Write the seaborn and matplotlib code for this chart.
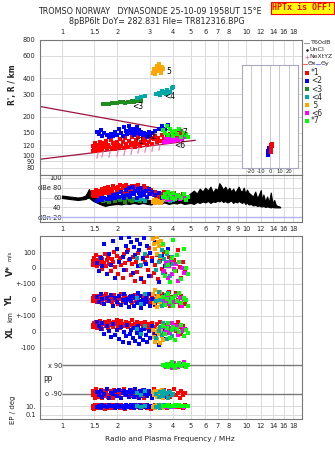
import matplotlib
matplotlib.use("Agg")
import matplotlib.pyplot as plt
import seaborn as sns
from matplotlib.ticker import FixedLocator, NullLocator, FixedFormatter

sns.set_theme(style="white")
plt.rcParams['font.family'] = ['DejaVu Sans']

# ---------------- data ----------------
FREQ_TICKS = [1, 1.5, 2, 3, 4, 5, 6, 7, 8, 10, 12, 14, 16, 18]
FREQ_LABELS = ['1', '1.5', '2', '3', '4', '5', '6', '7', '8', '10', '12', '14', '16', '18']
MID_TICKS = [1, 1.5, 2, 3, 4, 5, 6, 7, 8, 9, 10, 12, 14, 16, 18]
MID_LABELS = ['1', '1.5', '2', '3', '4', '5', '6', '7', '8', '9', '10', '12', '14', '16', '18']
H_TICKS = [80, 90, 100, 120, 150, 200, 300, 400, 600, 800]

# echo cluster *1 (red)
red_f = [1.47, 1.48, 1.50, 1.51, 1.53, 1.55, 1.56, 1.58, 1.60, 1.62,
         1.64, 1.66, 1.69, 1.71, 1.73, 1.76, 1.78, 1.81, 1.84, 1.86,
         1.89, 1.92, 1.95, 1.98, 2.01, 2.04, 2.07, 2.10, 2.14, 2.17,
         2.21, 2.24, 2.28, 2.32, 2.36, 2.40, 2.44, 2.48, 2.52, 2.56,
         2.60, 2.65, 2.69, 2.74, 2.78, 2.83, 2.88, 2.93, 2.98, 3.03,
         3.09, 3.15, 3.21, 3.27, 3.34, 3.41, 3.48, 3.56, 3.64, 3.72,
         3.80, 3.88, 3.97, 4.06, 4.15, 4.25, 4.35, 4.45, 4.55, 4.68]
red_h = [108, 119, 113, 124, 107, 116, 121, 110, 127, 114,
         119, 109, 124, 115, 129, 111, 121, 117, 132, 113,
         125, 118, 112, 128, 121, 115, 133, 119, 126, 113,
         136, 122, 117, 129, 120, 138, 125, 116, 131, 123,
         140, 119, 128, 135, 124, 131, 121, 142, 127, 136,
         123, 133, 141, 127, 137, 130, 145, 134, 128, 142,
         136, 147, 131, 140, 150, 137, 144, 148, 141, 146]
red_db = [66, 72, 64, 70, 75, 68, 63, 71, 74, 67,
          77, 65, 72, 80, 69, 75, 82, 70, 78, 73,
          84, 68, 79, 74, 81, 71, 85, 76, 83, 70,
          79, 85, 72, 81, 77, 84, 70, 83, 78, 74,
          86, 75, 80, 71, 84, 76, 79, 73, 68, 75,
          70, 66, 72, 64, 69, 62, 67, 71, 65, 60,
          68, 63, 66, 70, 62, 65, 60, 64, 67, 61]
red_v = [45, 20, 62, 35, 80, 10, 52, 28, 70, 40,
         -5, 58, 33, 88, 15, 47, 65, 25, -20, 54,
         38, 100, 5, 72, -35, 44, 60, 18, -60, 85,
         30, -10, 115, 50, -45, 22, 68, -80, 40, -25,
         95, 10, -65, 55, -90, 35, 75, -15, 125, -50,
         60, -30, 20, 80, -70, 45, -5, 100, -40, 15,
         70, -85, 30, 50, -20, 110, 5, -60, 40, -10]
red_yl = [10, -5, 22, 3, 15, -12, 28, 8, -2, 18,
          12, -20, 25, 5, 35, -8, 16, 0, 20, -15,
          9, 30, -3, 14, -25, 19, 6, 38, -10, 11,
          24, -6, 15, 2, 28, -18, 10, 33, -4, 17,
          7, -12, 22, 13, -28, 5, 26, -1, 40, -15,
          18, 8, -30, 25, 12, -8, 35, 3, -20, 15,
          50, -35, 20, -10, 45, 0, -40, 25, 10, -25]
red_xl = [45, 30, 58, 38, 65, 25, 50, 42, 70, 33,
          55, 20, 48, 62, 36, 52, 28, 68, 44, 57,
          31, 60, 47, 73, 39, 54, 26, 66, 43, 50,
          35, 61, 29, 56, 46, 72, 22, 53, 40, 64,
          18, 49, 58, 34, 45, 62, 27, 51, 10, 38,
          55, -5, 30, 48, 20, 60, -20, 42, 15, 35,
          55, -40, 25, 45, 5, 60, 30, -15, 40, 20]
red_pp = [-70, -100, -85, -115, -60, -95, -78, -108, -88, -66,
          -120, -92, -75, -103, -82, -58, -112, -97, -71, -86,
          -118, -64, -99, -80, -106, -90, -73, -122, -84, -62,
          -101, -77, -94, -114, -69, -87, -105, -59, -96, -81,
          -110, -74, -91, -65, -117, -83, -100, -70, -93, -79,
          -108, -61, -95, -86, -72, -113, -98, -67, -104, -89,
          -76, -110, -92, -63, -101, -85, -119, -74, -97, -88]
red_ep = [5, 12, 3, 20, 8, 15, 4, 24, 10, 6,
          18, 7, 13, 3, 22, 9, 5, 16, 11, 4,
          20, 8, 14, 6, 23, 10, 4, 17, 7, 12,
          3, 19, 9, 15, 5, 21, 8, 13, 6, 11,
          24, 4, 16, 9, 7, 18, 5, 12, 10, 3,
          15, 8, 20, 6, 11, 4, 17, 9, 13, 5,
          22, 7, 10, 14, 6, 19, 8, 12, 4, 16]

# echo cluster <2 (blue)
blue_f = [1.55, 1.58, 1.62, 1.66, 1.70, 1.75, 1.80, 1.85, 1.90, 1.95,
          2.00, 2.05, 2.10, 2.14, 2.18, 2.22, 2.26, 2.30, 2.34, 2.38,
          2.42, 2.46, 2.50, 2.54, 2.58, 2.62, 2.66, 2.70, 2.75, 2.80,
          2.85, 2.90, 2.96, 3.02, 3.10, 3.20, 3.35, 3.50, 3.62, 3.75]
blue_h = [152, 146, 158, 141, 150, 144, 139, 148, 142, 153,
          145, 160, 150, 141, 165, 155, 147, 170, 158, 150,
          162, 144, 155, 167, 149, 158, 146, 153, 143, 150,
          147, 140, 152, 145, 149, 155, 160, 168, 162, 172]
blue_db = [52, 55, 58, 54, 60, 57, 62, 56, 65, 59,
           68, 61, 72, 64, 58, 75, 66, 79, 62, 70,
           81, 67, 74, 60, 77, 69, 63, 80, 71, 66,
           74, 62, 78, 68, 72, 65, 70, 60, 67, 63]
blue_v = [30, -20, 60, 10, 150, -40, 90, 20, 170, -60,
          120, 40, 185, 70, -10, 140, 100, 195, 55, 160,
          -30, 130, 80, 175, 15, 110, 150, -70, 65, 190,
          25, 135, -50, 95, 45, 160, -90, 75, 10, 120]
blue_yl = [20, -10, 35, 5, -25, 15, -5, 30, -40, 10,
           -15, 25, -30, 0, 40, -20, 8, -45, 18, -8,
           28, -35, 12, -18, 45, -5, 22, -50, 3, -28,
           15, -12, 35, -38, 6, -22, 50, -15, 25, -5]
blue_xl = [60, 40, 20, 55, -10, 35, 5, -30, 50, -20,
           10, -45, 30, -60, 0, -25, 45, -70, -15, 15,
           -40, 25, -55, -5, 35, -75, -30, 10, -50, 20,
           -20, -65, 5, -35, 40, -10, -80, 15, -45, 0]
blue_pp = [-80, -100, -70, -110, -90, -60, -120, -85, -95, -75,
           -105, -65, -115, -88, -72, -98, -82, -112, -68, -92,
           -78, -108, -62, -96, -86, -118, -74, -102, -90, -66,
           -84, -106, -76, -94, -116, -70, -100, -80, -110, -88]
blue_ep = [8, 14, 5, 20, 10, 6, 17, 9, 12, 4,
           22, 7, 15, 11, 5, 19, 8, 13, 6, 24,
           10, 4, 16, 9, 12, 7, 21, 5, 14, 10,
           6, 18, 8, 11, 15, 4, 13, 9, 20, 7]

# echo cluster <3 (dark green)
green_f = [1.68, 1.73, 1.79, 1.86, 1.93, 2.00, 2.07, 2.14, 2.21, 2.28, 2.34, 2.40, 2.46, 2.52, 2.58, 2.64, 2.70]
green_h = [252, 254, 251, 256, 258, 255, 259, 262, 257, 263, 260, 266, 262, 268, 264, 270, 266]
green_db = [52, 55, 50, 57, 53, 58, 54, 56, 51, 59, 55, 53, 57, 54, 58, 52, 56]

# echo cluster <4 (teal)
teal_f = [2.55, 2.68, 2.82, 3.25, 3.35, 3.42, 3.50, 3.55, 3.60, 3.65, 3.70, 3.76, 3.85, 3.95, 4.02]
teal_h = [283, 287, 292, 300, 310, 298, 318, 305, 312, 300, 322, 308, 315, 335, 345]
teal_db = [54, 56, 52, 58, 55, 60, 53, 57, 62, 54, 59, 56, 52, 58, 55]
teal_v = [60, 20, 90, -10, 40, 75, 110, -30, 55, 10, 85, 35, -50, 70, 25]
teal_yl = [15, -25, 35, -5, 50, 0, -40, 20, -15, 30, -10, 45, 5, -30, 10]
teal_xl = [20, -10, 40, -35, 5, 30, -20, 55, -5, 15, -45, 25, 0, -25, 10]
teal_pp = [-85, -100, -75, -95, -110, -80, -90, -105, -70, -95, -85, -115, -80, -100, -90]
teal_ep = [10, 6, 14, 8, 20, 5, 12, 9, 16, 7, 11, 25, 6, 13, 9]

# echo cluster 5 (orange)
orange_f = [3.12, 3.18, 3.22, 3.27, 3.30, 3.33, 3.37, 3.40, 3.44, 3.48, 3.52]
orange_h = [445, 470, 430, 500, 455, 485, 520, 465, 440, 495, 475]
orange_db = [50, 54, 48, 56, 52, 58, 51, 55, 49, 53, 57]
orange_v = [180, 150, 120, 195, 90, 160, 135, 70, 170, 110, 145]
orange_yl = [40, -20, 60, 10, -45, 25, -10, 50, -30, 15, -5]
orange_xl = [10, -30, -60, 0, -45, 20, -15, -70, 5, -25, -50]
orange_pp = [-80, -100, -70, -110, -90, -95, -75, -105, -85, -65, -115]
orange_ep = [8, 15, 5, 20, 10, 6, 12, 25, 9, 4, 18]

# echo cluster <6 (magenta)
mag_f = [3.60, 3.68, 3.75, 3.82, 3.90, 3.98, 4.06, 4.15, 4.25, 4.35, 4.48, 4.62]
mag_h = [128, 133, 126, 135, 130, 137, 129, 134, 131, 139, 133, 140]
mag_db = [58, 62, 55, 65, 60, 57, 63, 59, 66, 56, 61, 58]
mag_v = [-20, 30, -60, 10, 50, -40, -5, 25, -80, 40, 0, -30]
mag_yl = [5, -10, 20, -25, 0, 15, -5, 30, -15, 10, -35, 8]
mag_xl = [30, 10, 45, -5, 25, 55, 15, 35, -20, 40, 5, 20]
mag_pp = [90, 80, 100, 85, 95, 75, 105, 90, 82, 98, 88, 110]
mag_ep = [10, 8, 12, 9, 11, 14, 7, 10, 13, 9, 11, 8]

# echo cluster *7 (bright green)
lime_f = [3.55, 3.62, 3.70, 3.78, 3.86, 3.94, 4.02, 4.12, 4.22, 4.33, 4.45, 4.58, 4.72, 4.85]
lime_h = [158, 150, 168, 145, 160, 152, 142, 156, 148, 162, 140, 150, 144, 138]
lime_db = [62, 68, 58, 72, 65, 60, 70, 56, 66, 63, 59, 67, 55, 61]
lime_v = [150, -50, 100, 20, -90, 60, 175, -20, 80, 40, -70, 120, 0, -40]
lime_yl = [20, -30, 5, 35, -15, 10, -40, 25, -5, 45, -20, 15, 0, -35]
lime_xl = [40, -10, 25, 55, -35, 10, 30, -50, 20, 0, 45, -25, 15, -5]
lime_pp = [95, 85, 100, 80, 90, 110, 88, 75, 92, 105, 84, 96, 78, 90]
lime_ep = [12, 15, 10, 18, 11, 14, 9, 20, 13, 16, 10, 12, 15, 11]

# model profile (NeXtYZ)
nexyz_f = [1.55, 1.65, 1.80, 1.99, 2.18, 2.38, 2.60, 2.84, 3.10, 3.35]
nexyz_h = [101, 102, 103, 105, 106, 108, 110, 112, 114, 116]

# bounding lines
lim_upper_f = [0.76, 4.8]
lim_upper_h = [241, 149]
lim_lower_f = [0.76, 5.3]
lim_lower_h = [93, 131]

# tilt inset
tilt_blue = [-2.5, -2.0, -2.0, -1.5, -1.5, -1.8]
tilt_blue_h = [101, 104, 108, 111, 114, 106]
tilt_red = [1.0, 1.2, 1.5, 1.8, 2.0, 1.4]
tilt_red_h = [106, 110, 114, 118, 123, 120]

# noise (T60dB) envelope in dBe panel
noise_f = [1.00, 1.05, 1.10, 1.16, 1.22, 1.28, 1.34, 1.37, 1.40, 1.44, 1.48, 1.52, 1.58, 1.65,
           1.72, 1.80, 1.90, 2.00, 2.10, 2.20, 2.32, 2.45, 2.60, 2.75, 2.90, 3.05, 3.20, 3.40,
           3.60, 3.80, 4.00, 4.20, 4.40, 4.60, 4.80, 5.00, 5.20, 5.40, 5.60, 5.80, 6.00, 6.20,
           6.40, 6.60, 6.80, 7.00, 7.15, 7.30, 7.50, 7.70, 7.90, 8.10, 8.30, 8.50, 8.70, 8.90,
           9.10, 9.30, 9.50, 9.70, 9.90, 10.1, 10.3, 10.6, 10.9, 11.2, 11.5, 11.8, 12.0, 12.2,
           12.4, 12.7, 13.0, 13.3, 13.6, 13.9, 14.2, 14.5, 14.8, 15.1, 15.3]
noise_lo = [59, 58, 57, 56, 55, 56, 57, 59, 60, 56, 53, 51, 48, 45,
            43, 45, 46, 47, 46, 48, 47, 49, 47, 49, 47, 46, 49, 48,
            50, 47, 49, 48, 50, 47, 48, 49, 47, 51, 49, 52, 50, 53,
            49, 52, 51, 54, 52, 55, 51, 53, 50, 52, 54, 49, 52, 50,
            53, 51, 49, 52, 47, 50, 46, 47, 44, 45, 43, 44, 42, 42,
            43, 41, 42, 41, 40, 41, 40, 40, 40, 40, 40]
noise_hi = [64, 63, 62, 61, 60, 61, 64, 70, 77, 70, 64, 60, 57, 54,
            52, 55, 54, 56, 55, 57, 54, 56, 55, 58, 56, 54, 58, 57,
            60, 56, 59, 57, 60, 58, 63, 69, 74, 68, 78, 72, 80, 74,
            82, 70, 78, 76, 89, 84, 76, 82, 74, 80, 72, 78, 70, 76,
            82, 74, 72, 80, 68, 76, 70, 66, 62, 72, 58, 68, 75, 54,
            66, 52, 62, 50, 70, 48, 55, 45, 43, 42, 41]

# ---------------- figure ----------------
W, H = 335, 451
fig = plt.figure(figsize=(W / 100, H / 100), dpi=100)


def box(x0, y0, x1, y1):
    return fig.add_axes([x0 / W, 1 - y1 / H, (x1 - x0) / W, (y1 - y0) / H])


GRID = '#dadada'
SPINE = '#777777'
C = dict(red='#ff0000', blue='#0000ff', green='#1e8c1e', teal='#00a8a8',
         orange='#ffa500', mag='#ff00ff', lime='#00ff00')
MS = 8


def freq_axis(ax, ticks=FREQ_TICKS, labels=None, side=None, pad=3):
    ax.set_xscale('log')
    ax.set_xlim(0.76, 20.1)
    ax.xaxis.set_major_locator(FixedLocator(ticks))
    ax.xaxis.set_minor_locator(NullLocator())
    ax.grid(True, axis='x', color=GRID, lw=0.7)
    if labels is None:
        ax.tick_params(axis='x', which='both', bottom=False, top=False,
                       labelbottom=False, labeltop=False)
    else:
        ax.xaxis.set_major_formatter(FixedFormatter(labels))
        ax.tick_params(axis='x', length=0, pad=pad, labelsize=4.8,
                       labelbottom=(side == 'bottom'), labeltop=(side == 'top'))
    for s in ax.spines.values():
        s.set_color(SPINE)
        s.set_linewidth(0.8)
    ax.set_facecolor('white')


def sq(ax, x, y, color, s=MS, z=3):
    sns.scatterplot(x=x, y=y, ax=ax, color=color, marker='s', s=s,
                    linewidth=0, zorder=z, legend=False)
    ax.set_xlabel('')
    ax.set_ylabel('')


# ---- height panel ----
ax_h = box(40, 40, 302, 175)
freq_axis(ax_h, FREQ_TICKS, FREQ_LABELS, side='top', pad=3.5)
ax_h.set_yscale('log')
ax_h.set_ylim(70, 800)
ax_h.yaxis.set_major_locator(FixedLocator(H_TICKS))
ax_h.yaxis.set_minor_locator(NullLocator())
ax_h.yaxis.set_major_formatter(FixedFormatter([str(t) for t in H_TICKS]))
ax_h.tick_params(axis='y', length=0, pad=3.5, labelsize=4.8)
ax_h.grid(True, axis='y', color=GRID, lw=0.7)

ax_h.plot(lim_upper_f, lim_upper_h, color='#a01040', lw=0.9, zorder=2)
ax_h.plot(lim_lower_f, lim_lower_h, color='#a01040', lw=0.9, zorder=2)
sq(ax_h, green_f, green_h, C['green'])
sq(ax_h, teal_f, teal_h, C['teal'])
sq(ax_h, orange_f, orange_h, C['orange'])
sq(ax_h, red_f, red_h, C['red'])
sq(ax_h, blue_f, blue_h, C['blue'])
sq(ax_h, mag_f, mag_h, C['mag'])
sq(ax_h, lime_f, lime_h, C['lime'])
ax_h.plot(nexyz_f, nexyz_h, linestyle='none', marker='$I$', ms=4.2,
          color='#f07ab0', mec='#f07ab0', mew=0.3, zorder=5)
for txt, f, h in [('*1', 2.52, 127), ('<2', 2.82, 141), ('<3', 2.42, 240),
                  ('<4', 3.58, 287), ('5', 3.68, 450), ('<6', 4.05, 119), ('*7', 4.35, 152)]:
    ax_h.text(f, h, txt, fontsize=5.5, color='black', ha='left', va='center', zorder=6)

# ---- tilt inset ----
ax_t = box(242, 65, 298, 168)
ax_t.set_xlim(-30, 30)
ax_t.set_yscale('log')
ax_t.set_ylim(80, 507)
ax_t.xaxis.set_major_locator(FixedLocator([-20, -10, 0, 10, 20]))
ax_t.yaxis.set_major_locator(NullLocator())
ax_t.yaxis.set_minor_locator(NullLocator())
ax_t.grid(True, axis='x', color='#c8c8d0', lw=0.7)
ax_t.tick_params(axis='x', length=0, pad=1, labelsize=3.8)
ax_t.set_xticklabels(['-20', '-10', '0', '10', '20'])
ax_t.set_facecolor('white')
for s in ax_t.spines.values():
    s.set_color('#a8a8c0')
    s.set_linewidth(0.8)
sq(ax_t, tilt_blue, tilt_blue_h, C['blue'], s=5)
sq(ax_t, tilt_red, tilt_red_h, C['red'], s=5)
ax_t.set_xlabel('Tilt / deg', fontsize=3.8, labelpad=0.5)

# ---- dBe panel ----
ax_d = box(40, 175, 302, 222)
freq_axis(ax_d, MID_TICKS, MID_LABELS, side='bottom', pad=3.2)
ax_d.set_ylim(10.5, 105.5)
ax_d.yaxis.set_major_locator(FixedLocator([20, 40, 60, 80, 100]))
ax_d.yaxis.set_major_formatter(FixedFormatter(['dBn 20', '40', '60', 'dBe 80', '100']))
ax_d.tick_params(axis='y', length=0, pad=-15.5, labelsize=4.8)
ax_d.grid(True, axis='y', color=GRID, lw=0.7)
ax_d.axhline(20, color='#b0b4f0', lw=1.0, zorder=1)
ax_d.fill_between(noise_f, noise_lo, noise_hi, color='black', lw=0.8, zorder=2)
sq(ax_d, green_f, green_db, C['green'])
sq(ax_d, teal_f, teal_db, C['teal'])
sq(ax_d, orange_f, orange_db, C['orange'])
sq(ax_d, red_f, red_db, C['red'])
sq(ax_d, blue_f, blue_db, C['blue'])
sq(ax_d, mag_f, mag_db, C['mag'])
sq(ax_d, lime_f, lime_db, C['lime'])

# ---- lower panels ----
ax_v = box(40, 236, 302, 284)
ax_y = box(40, 284, 302, 316)
ax_x = box(40, 316, 302, 356)
ax_p = box(40, 356, 302, 400)
ax_e = box(40, 400, 302, 419)
lower = [ax_v, ax_y, ax_x, ax_p, ax_e]
for i, ax in enumerate(lower):
    if ax is ax_e:
        freq_axis(ax, FREQ_TICKS, FREQ_LABELS, side='bottom', pad=2.6)
    else:
        freq_axis(ax)
    if i > 0:
        ax.spines['top'].set_visible(False)
    if i < len(lower) - 1:
        ax.spines['bottom'].set_visible(False)
    ax.tick_params(axis='y', length=0, pad=3, labelsize=4.8)
    ax.grid(True, axis='y', color=GRID, lw=0.7)

ax_v.set_ylim(-100, 200)
ax_v.yaxis.set_major_locator(FixedLocator([0, 100]))
ax_v.yaxis.set_major_formatter(FixedFormatter(['0', '100']))
ax_y.set_ylim(-100, 100)
ax_y.yaxis.set_major_locator(FixedLocator([-100, 0, 100]))
ax_y.yaxis.set_major_formatter(FixedFormatter(['', '0', '+-100']))
ax_x.set_ylim(-150, 100)
ax_x.yaxis.set_major_locator(FixedLocator([-100, 0, 100]))
ax_x.yaxis.set_major_formatter(FixedFormatter(['-100', '0', '+-100']))
ax_p.set_ylim(-130, 149)
ax_p.yaxis.set_major_locator(FixedLocator([-90, 90]))
ax_p.yaxis.set_major_formatter(FixedFormatter(['o -90', 'x 90']))
ax_p.tick_params(axis='y', pad=-16)
ax_p.grid(False, axis='y')
ax_p.hlines([-90, 90], 1.0, 20.1, color='#7a7a7a', lw=1.0, zorder=2)
ax_e.set_yscale('log')
ax_e.set_ylim(0.012, 280)
ax_e.yaxis.set_major_locator(FixedLocator([0.1, 10]))
ax_e.yaxis.set_minor_locator(NullLocator())
ax_e.yaxis.set_major_formatter(FixedFormatter(['0.1', '10.']))

groups = [
    (red_f, red_v, red_yl, red_xl, red_pp, red_ep, C['red']),
    (blue_f, blue_v, blue_yl, blue_xl, blue_pp, blue_ep, C['blue']),
    (orange_f, orange_v, orange_yl, orange_xl, orange_pp, orange_ep, C['orange']),
    (teal_f, teal_v, teal_yl, teal_xl, teal_pp, teal_ep, C['teal']),
    (mag_f, mag_v, mag_yl, mag_xl, mag_pp, mag_ep, C['mag']),
    (lime_f, lime_v, lime_yl, lime_xl, lime_pp, lime_ep, C['lime']),
]
for f, v, yl, xl, pp, ep, col in groups:
    sq(ax_v, f, v, col)
    sq(ax_y, f, yl, col)
    sq(ax_x, f, xl, col)
    sq(ax_p, f, pp, col)
    sq(ax_e, f, ep, col)

ax_p.text(0.0125, 0.44, 'PP', transform=ax_p.transAxes, fontsize=5.5, va='center')

# ---- labels ----
def ftext(x, y, s, **kw):
    fig.text(x / W, 1 - y / H, s, **kw)


ftext(150, 12, 'TROMSO NORWAY   DYNASONDE 25-10-09 1958UT 15°E', fontsize=5.8,
      ha='center', va='center')
ftext(157, 21, '8pBP6It DoY= 282.831 File= TR812316.BPG', fontsize=5.8,
      ha='center', va='center')
ftext(302.5, 8, 'HPTx is OFF!', fontsize=6.0, color='#ff0000', ha='center', va='center',
      family='DejaVu Sans Mono', weight='bold',
      bbox=dict(boxstyle='square,pad=0.18', fc='#ffff00', ec='#ff0000', lw=0.8))
ftext(13, 85, "R', R / km", fontsize=5.5, weight='bold', rotation=90, ha='center', va='center')
ftext(10, 271, 'V*', fontsize=6, weight='bold', rotation=90, ha='center', va='center')
ftext(10, 256, 'm/s', fontsize=4, rotation=90, ha='center', va='center')
ftext(10, 300, 'YL', fontsize=6, weight='bold', rotation=90, ha='center', va='center')
ftext(10, 317, 'km', fontsize=5, rotation=90, ha='center', va='center')
ftext(10, 332, 'XL', fontsize=6, weight='bold', rotation=90, ha='center', va='center')
ftext(13, 410, 'EP / deg', fontsize=5, rotation=90, ha='center', va='center')
ftext(170, 439, 'Radio and Plasma Frequency / MHz', fontsize=5.3, ha='center', va='center')

# ---- legend (outside right) ----
ax_l = box(302, 38, 335, 126)
ax_l.set_xlim(302, 335)
ax_l.set_ylim(126, 38)
ax_l.axis('off')
ax_l.plot([304, 309], [43, 43], color='#999999', lw=0.8)
ax_l.text(310, 43, 'T60dB', fontsize=4.6, va='center')
ax_l.plot([306.5], [50], marker='.', color='black', ms=1.5)
ax_l.text(310, 50, 'UnCl', fontsize=4.6, va='center')
ax_l.plot([306.5], [57], marker='+', color='#f07ab0', ms=3, mew=0.6)
ax_l.text(309, 57, 'NeXtYZ', fontsize=4.4, va='center')
ax_l.plot([303, 307], [64, 64], color='#ff6060', lw=0.8)
ax_l.text(307.5, 64, 'Θx', fontsize=4.6, va='center')
ax_l.plot([316, 320], [64, 64], color='#8080ff', lw=0.8)
ax_l.text(320.5, 64, 'Θy', fontsize=4.6, va='center')
for (lab, col), yy in zip([('*1', 'red'), ('<2', 'blue'), ('<3', 'green'), ('<4', 'teal'),
                           (' 5', 'orange'), ('<6', 'mag'), ('*7', 'lime')],
                          [73, 81, 89.5, 97.5, 105.5, 113.5, 121]):
    ax_l.plot([307], [yy], marker='s', color=C[col], ms=2.2, mew=0)
    ax_l.text(311, yy, lab, fontsize=5.5, va='center')

fig.savefig('out.png', dpi=100)
